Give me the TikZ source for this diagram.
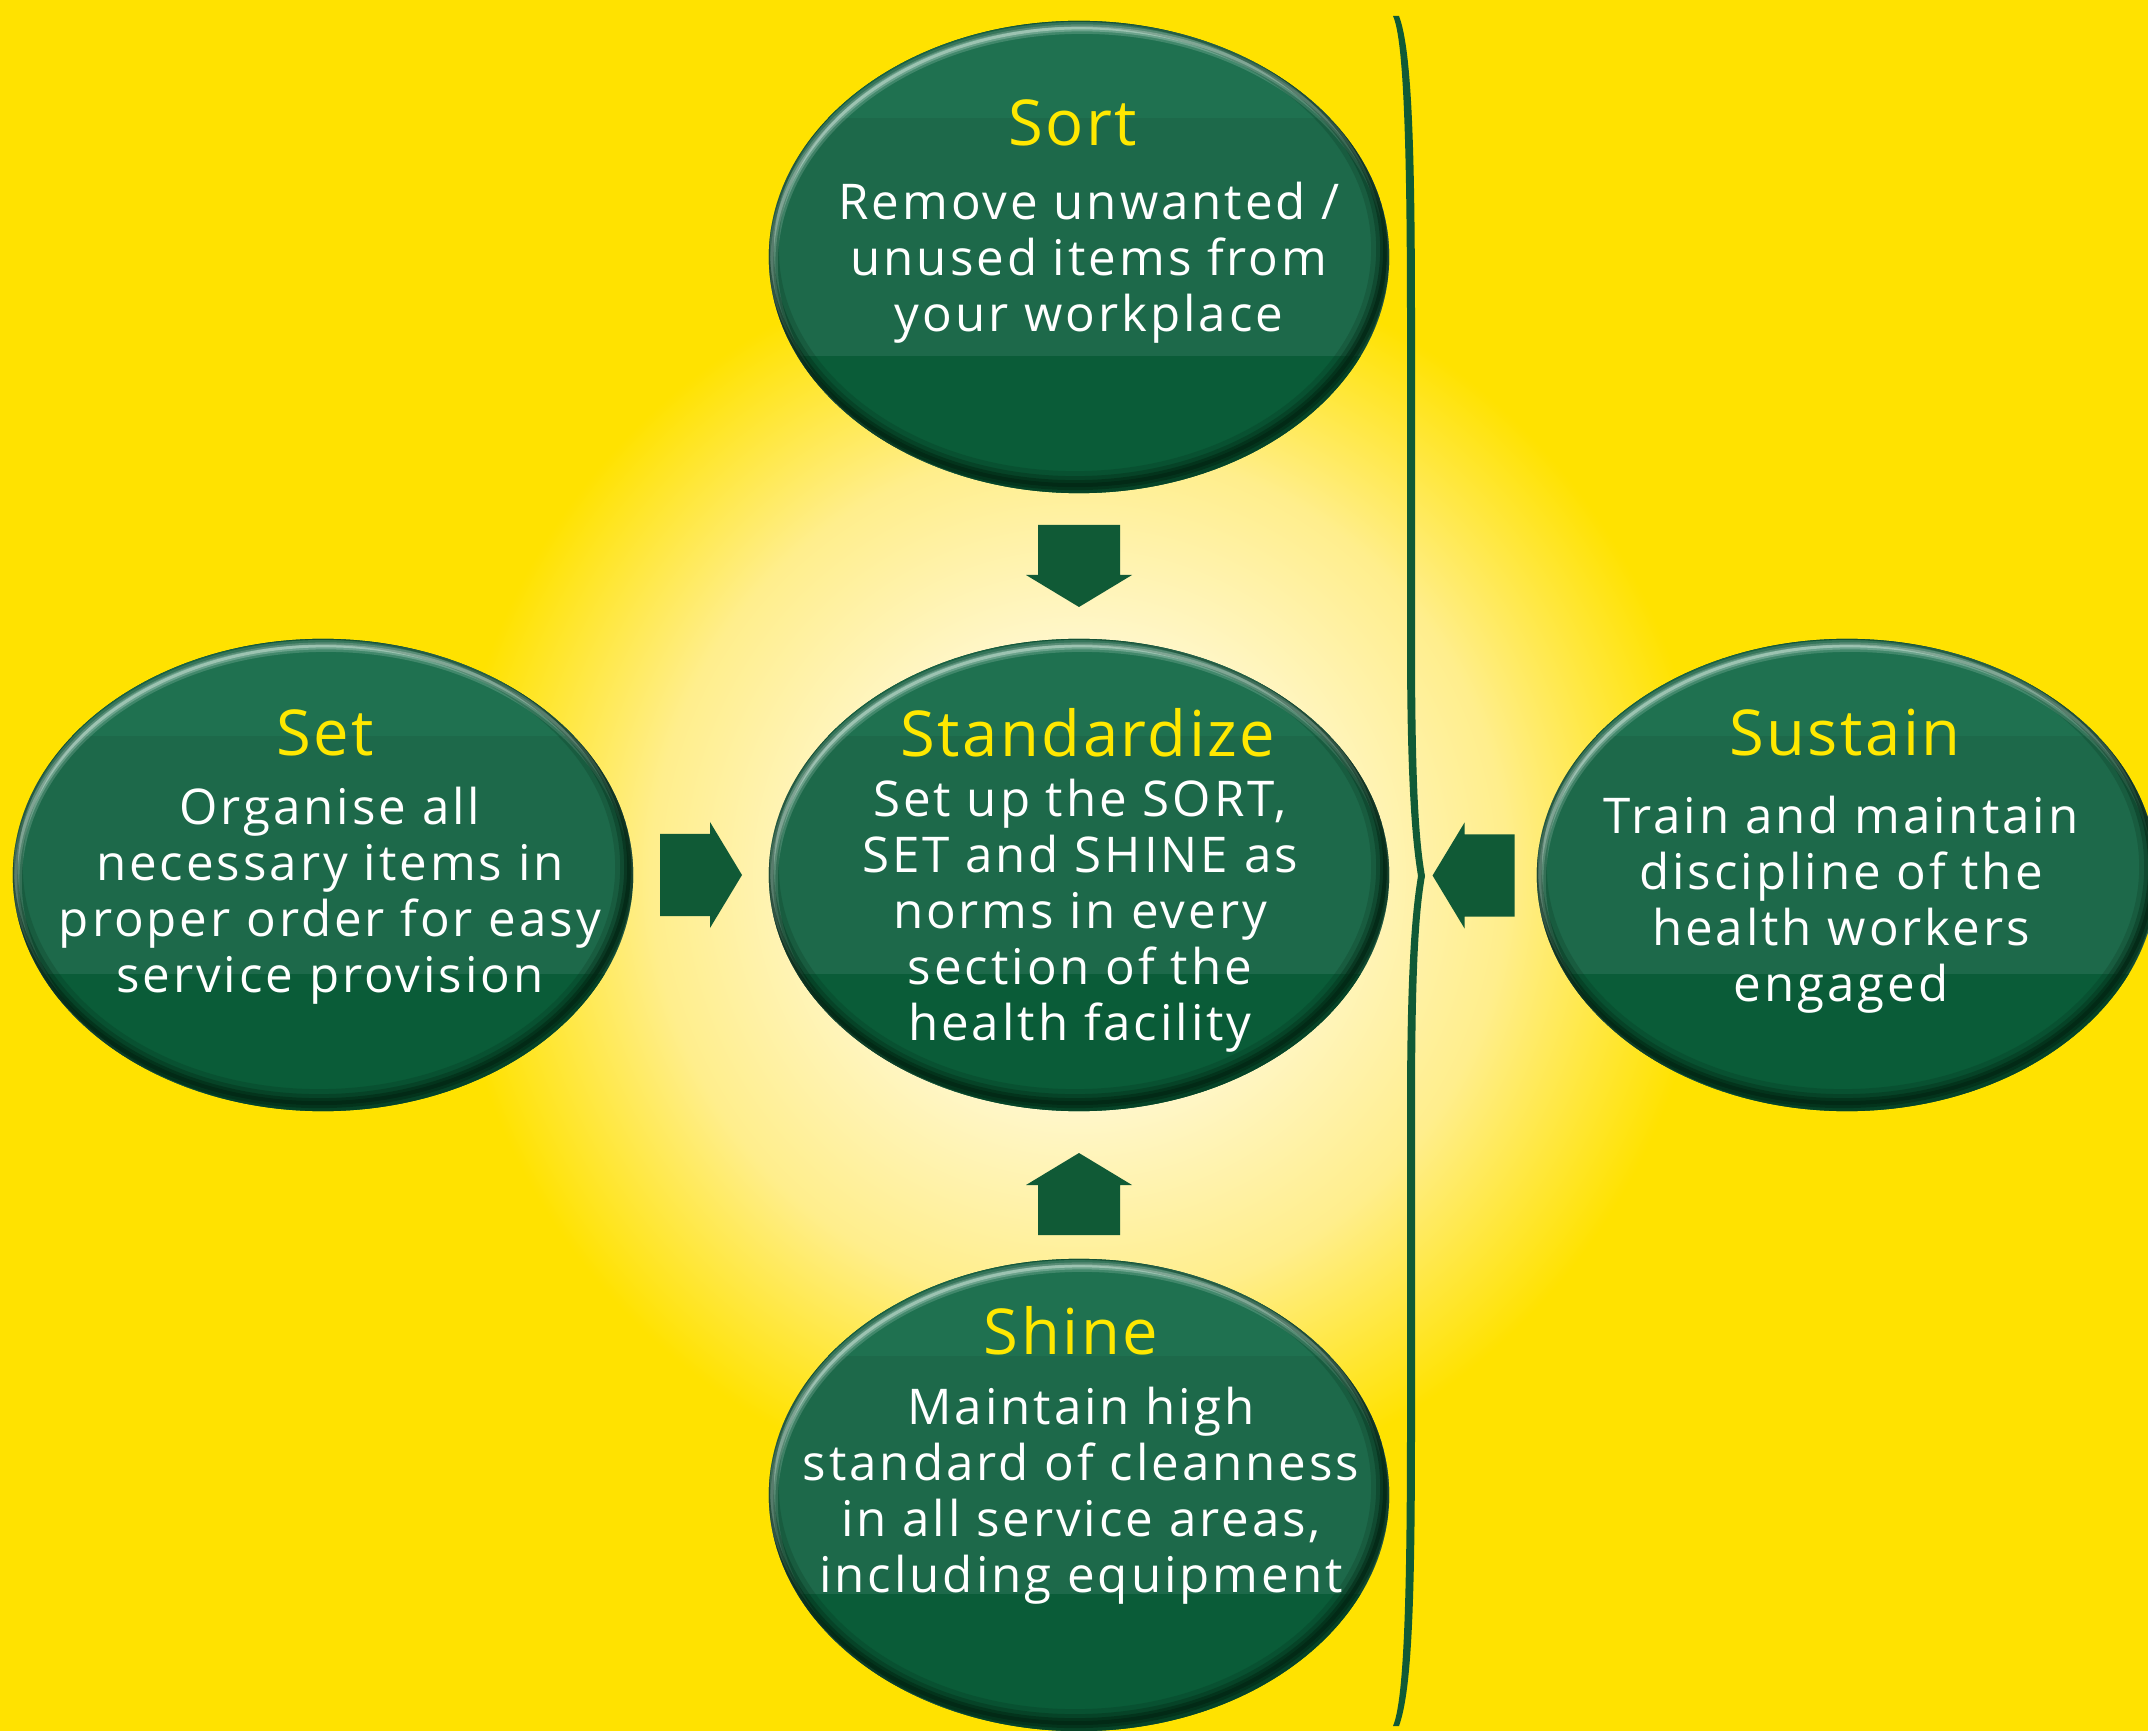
\documentclass[tikz,border=0pt]{standalone}
\usepackage{fontspec}
\setmainfont{Open Sans}
\newfontfamily\bodyfont{Open Sans}[LetterSpace=6]
\newfontfamily\titlefont{Open Sans}[LetterSpace=4]
\usetikzlibrary{shapes.geometric,calc}
\definecolor{bgY}{RGB}{255,226,0}
\definecolor{glowC}{RGB}{255,252,236}
\definecolor{glowA}{RGB}{255,248,212}
\definecolor{glowM}{RGB}{255,238,140}
\definecolor{gTop}{RGB}{31,113,80}
\definecolor{gMid}{RGB}{29,105,74}
\definecolor{gBot}{RGB}{10,92,56}
\definecolor{rimC}{RGB}{2,36,18}
\definecolor{sheenC}{RGB}{205,228,216}
\definecolor{arrowG}{RGB}{16,90,54}
\definecolor{titleY}{RGB}{255,232,0}
\pgfdeclareradialshading{glow}{\pgfpoint{0bp}{0bp}}{color(0bp)=(glowC); color(8bp)=(glowA); color(17bp)=(glowM); color(25bp)=(bgY); color(50bp)=(bgY)}
\begin{document}
\begin{tikzpicture}[x=0.01cm,y=-0.01cm,
  bubble/.style={ellipse, minimum width=6.2cm, minimum height=4.72cm, inner sep=0pt,
    path picture={
      \path (path picture bounding box.center) coordinate (ppc);
      \fill[gMid] ([shift={(-4cm,-3cm)}]ppc) rectangle ([shift={(4cm,3cm)}]ppc);
      \fill[gTop] ([shift={(-4cm,1.39cm)}]ppc) rectangle ([shift={(4cm,3cm)}]ppc);
      \fill[gBot] ([shift={(-4cm,-3cm)}]ppc) rectangle ([shift={(4cm,-0.99cm)}]ppc);
      \foreach \w/\o in {0.03/0.5,0.07/0.3,0.12/0.2}{
        \draw[sheenC, line width=\w cm, opacity=\o] ([shift={(0.03cm,-0.07cm)}]ppc) ellipse [x radius=3.1cm, y radius=2.36cm];
      }
      \foreach \w/\o in {0.04/0.6,0.1/0.45,0.18/0.3,0.28/0.18}{
        \draw[rimC, line width=\w cm, opacity=\o] ([shift={(-0.04cm,0.08cm)}]ppc) ellipse [x radius=3.1cm, y radius=2.36cm];
      }
    }},
  ttl/.style={text=titleY, font=\titlefont\fontsize{18}{20}\selectfont, inner sep=0pt},
  body/.style={text=white, font=\bodyfont\fontsize{14}{15.9}\selectfont, align=center, inner sep=0pt},
  blockarrow/.pic={\fill[arrowG] (-41,-41) -- (9,-41) -- (9,-53) -- (41,0) -- (9,53) -- (9,41) -- (-41,41) -- cycle;}
]
\useasboundingbox (0,0) rectangle (2148,1731);
\clip (0,0) rectangle (2148,1731);
\fill[bgY] (0,0) rectangle (2148,1731);
\shade[shading=glow] (1079,875) circle [radius=6.3cm];

% bubbles
\node[bubble] (sort) at (1079,257) {};
\node[bubble] (std) at (1079,875) {};
\node[bubble] (set) at (323,875) {};
\node[bubble] (sus) at (1847,875) {};
\node[bubble] (shine) at (1079,1495) {};

% texts
\node[ttl] (sortT) at (1073,123) {Sort};
\node[body] (sortB) at (1089,263) {Remove unwanted /\\unused items from\\your workplace};
\node[ttl] (stdT) at (1088,733) {Standardize};
\node[body] (stdB) at (1080,916) {Set up the SORT,\\SET and SHINE as\\norms in every\\section of the\\health facility};
\node[ttl] (setT) at (325,733) {Set};
\node[body] (setB) at (330,896) {Organise all\\necessary items in\\proper order for easy\\service provision};
\node[ttl] (susT) at (1845,733) {Sustain};
\node[body] (susB) at (1841,905) {Train and maintain\\discipline of the\\health workers\\engaged};
\node[ttl] (shineT) at (1071,1331) {Shine};
\node[body] (shineB) at (1081,1496) {Maintain high\\standard of cleanness\\in all service areas,\\including equipment};

% brace
\coordinate (braceTip) at (1425,876);
\fill[arrowG] (1393,16) .. controls (1404,40) and (1407,150) .. (1407,330) -- (1407,640)
  .. controls (1407,780) and (1412,840) .. (1418,876)
  .. controls (1412,912) and (1407,970) .. (1407,1110) -- (1407,1420)
  .. controls (1407,1600) and (1404,1700) .. (1393,1726) -- (1399,1726)
  .. controls (1412,1690) and (1415,1600) .. (1415,1420) -- (1415,1110)
  .. controls (1415,980) and (1418,915) .. (braceTip)
  .. controls (1418,837) and (1415,770) .. (1415,640) -- (1415,330)
  .. controls (1415,150) and (1412,50) .. (1399,16) -- cycle;

% arrows
\pic[rotate=-90] at ($(sort.south)!0.5!(std.north)$) {blockarrow};
\pic[rotate=90] at ([yshift=-0.09cm]$(std.south)!0.5!(shine.north)$) {blockarrow};
\pic at ($(set.east)!0.5!(std.west)$) {blockarrow};
\pic[rotate=180] at ([xshift=-0.07cm]$(braceTip)!0.5!(sus.west)$) {blockarrow};
\end{tikzpicture}
\end{document}
